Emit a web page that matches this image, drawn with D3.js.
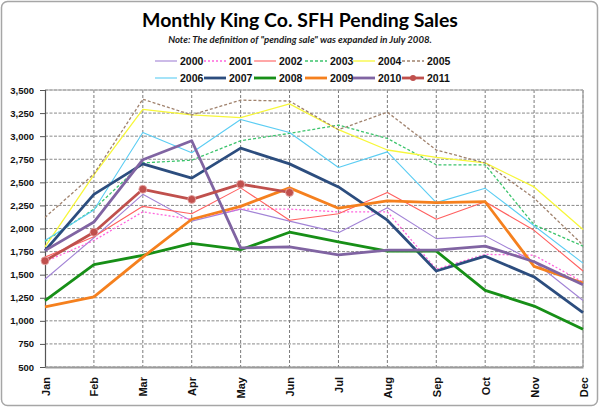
<!DOCTYPE html>
<html><head><meta charset="utf-8">
<script src="https://cdn.jsdelivr.net/npm/d3@7"></script>
<style>body{margin:0;background:#fff}svg{display:block}</style>
</head><body>
<svg id="c" width="600" height="408"></svg>
<script>
const months = ["Jan","Feb","Mar","Apr","May","Jun","Jul","Aug","Sep","Oct","Nov","Dec"];
const yTicks = [500,750,1000,1250,1500,1750,2000,2250,2500,2750,3000,3250,3500];
const s2000 = [1450,1900,2370,2080,2210,2080,1955,2225,1890,1920,1640,1220];
const s2001 = [1640,1870,2180,2100,2210,2210,2180,2180,1560,1720,1710,1420];
const s2002 = [1690,1910,2240,2160,2440,2090,2160,2390,2100,2290,1980,1540];
const s2003 = [1860,2210,2710,2740,2950,3030,3120,2975,2690,2690,2040,1810];
const s2004 = [1800,2580,3290,3230,3200,3350,3070,2850,2770,2710,2450,1990];
const s2005 = [2120,2590,3400,3230,3390,3380,3070,3260,2850,2710,2330,1820];
const s2006 = [1870,2200,3040,2820,3180,3040,2660,2830,2280,2435,2030,1625];
const s2007 = [1760,2370,2700,2545,2870,2700,2450,2090,1540,1700,1475,1090];
const s2008 = [1220,1610,1710,1840,1770,1960,1855,1755,1755,1330,1160,910];
const s2009 = [1150,1260,1690,2100,2240,2440,2220,2300,2280,2290,1590,1410];
const s2010 = [1760,2070,2745,2950,1790,1800,1715,1765,1765,1810,1640,1390];
const s2011 = [1650,1960,2425,2315,2480,2390];
const seriesNames = ["2000","2001","2002","2003","2004","2005","2006","2007","2008","2009","2010","2011"];

const series = [
  {name:"2000", values:s2000, color:"#a283d6", width:1.1, dash:null},
  {name:"2001", values:s2001, color:"#ff66dd", width:1.3, dash:"2,2"},
  {name:"2002", values:s2002, color:"#ff6060", width:1.1, dash:null},
  {name:"2003", values:s2003, color:"#3cc46c", width:1.3, dash:"3,2"},
  {name:"2004", values:s2004, color:"#f7f73a", width:1.3, dash:null},
  {name:"2005", values:s2005, color:"#a0826d", width:1.3, dash:"3,2"},
  {name:"2006", values:s2006, color:"#5bcdf3", width:1.1, dash:null},
  {name:"2007", values:s2007, color:"#2c4d7e", width:2.8, dash:null},
  {name:"2008", values:s2008, color:"#178f17", width:2.8, dash:null},
  {name:"2009", values:s2009, color:"#f5801e", width:2.8, dash:null},
  {name:"2010", values:s2010, color:"#8064a2", width:2.8, dash:null},
  {name:"2011", values:s2011, color:"#c0504d", width:2.8, dash:null, marker:true}
];

const svg = d3.select("#c");
const M = {left:45, right:583, top:90, bottom:367};

// outer frame
svg.append("rect").attr("x",1.5).attr("y",1.5).attr("width",596).attr("height",404)
  .attr("rx",6).attr("fill","#fff").attr("stroke","#a6a6a6").attr("stroke-width",1.5);

const x = d3.scalePoint().domain(months).range([M.left, M.right]);
const y = d3.scaleLinear().domain([500,3500]).range([M.bottom, M.top]);

// title
function fit(sel, w){
  const n = sel.node(); const fs = parseFloat(sel.attr("font-size"));
  const cw = n.getComputedTextLength(); sel.attr("font-size", fs*w/cw);
}
const title = svg.append("text").attr("x",300).attr("y",27).attr("text-anchor","middle")
  .attr("font-family","Lato, 'Open Sans', sans-serif").attr("font-weight","bold")
  .attr("font-size",20).attr("fill","#000").text("Monthly King Co. SFH Pending Sales");
fit(title, 316);
const sub = svg.append("text").attr("x",300).attr("y",43).attr("text-anchor","middle")
  .attr("font-family","Lato, 'Open Sans', sans-serif").attr("font-weight","bold").attr("font-style","italic")
  .attr("font-size",10).attr("fill","#1a1a1a").text('Note: The definition of "pending sale" was expanded in July 2008.');
fit(sub, 264);

// grid
const g = svg.append("g");
g.selectAll(".hg").data(yTicks).join("line")
  .attr("x1",M.left).attr("x2",M.right).attr("y1",d=>y(d)).attr("y2",d=>y(d))
  .attr("stroke","#8a8a8a").attr("stroke-width",1).attr("stroke-dasharray","3,1.5");
g.selectAll(".vg").data(months.slice(1)).join("line")
  .attr("x1",d=>x(d)).attr("x2",d=>x(d)).attr("y1",M.top).attr("y2",M.bottom)
  .attr("stroke","#7a7a7a").attr("stroke-width",1).attr("stroke-dasharray","3,2");
// plot border top/right
svg.append("line").attr("x1",M.left).attr("x2",M.right).attr("y1",M.top).attr("y2",M.top).attr("stroke","#a8a8a8");
svg.append("line").attr("x1",M.right).attr("x2",M.right).attr("y1",M.top).attr("y2",M.bottom).attr("stroke","#a8a8a8").attr("stroke-width",1.5);

// y axis
const ya = svg.append("g").attr("transform",`translate(${M.left},0)`)
  .call(d3.axisLeft(y).tickValues(yTicks).tickFormat(d3.format(",")).tickSize(5).tickPadding(6));
ya.select(".domain").attr("stroke","#555").attr("stroke-width",1.2);
ya.selectAll(".tick line").attr("stroke","#555");
ya.selectAll("text").attr("font-family","'Liberation Sans', Arial, sans-serif").attr("font-weight","bold")
  .attr("font-size",9.5).attr("fill","#111");

// x axis
const xa = svg.append("g").attr("transform",`translate(0,${M.bottom})`)
  .call(d3.axisBottom(x).tickSize(0).tickPadding(0));
xa.select(".domain").attr("stroke","#9a9a9a").attr("stroke-width",2);
xa.selectAll("text").attr("font-family","'Liberation Sans', Arial, sans-serif").attr("font-weight","bold")
  .attr("font-size",11).attr("fill","#111")
  .attr("transform","translate(4,10) rotate(-90)").attr("text-anchor","end").attr("dy","0").attr("dx","0").attr("y",0);

// lines
const line = d3.line().x((d,i)=>x(months[i])).y(d=>y(d));
const lg = svg.append("g");
series.forEach(s=>{
  lg.append("path").attr("d",line(s.values)).attr("fill","none").attr("stroke",s.color)
    .attr("stroke-width",s.width).attr("stroke-dasharray",s.dash).attr("stroke-linejoin","round");
  if(s.marker){
    lg.selectAll(null).data(s.values).join("circle").attr("cx",(d,i)=>x(months[i])).attr("cy",d=>y(d))
      .attr("r",4).attr("fill",s.color).attr("stroke","#e8b0ae").attr("stroke-width",0.8);
  }
});

// legend
const colX = [155,204,254,305,353,402];
const rowY = [61,78];
series.forEach((s,i)=>{
  const cx = colX[i%6], cy = rowY[Math.floor(i/6)];
  const lgi = svg.append("g");
  lgi.append("line").attr("x1",cx).attr("x2",cx+22).attr("y1",cy).attr("y2",cy)
    .attr("stroke",s.color).attr("stroke-width",s.width).attr("stroke-dasharray",s.dash);
  if(s.marker) lgi.append("circle").attr("cx",cx+11).attr("cy",cy).attr("r",3).attr("fill",s.color);
  lgi.append("text").attr("x",cx+25).attr("y",cy+3.8).attr("font-family","'Liberation Sans', Arial, sans-serif")
    .attr("font-weight","bold").attr("font-size",10.5).attr("fill","#111").text(seriesNames[i]);
});
</script>
</body></html>
